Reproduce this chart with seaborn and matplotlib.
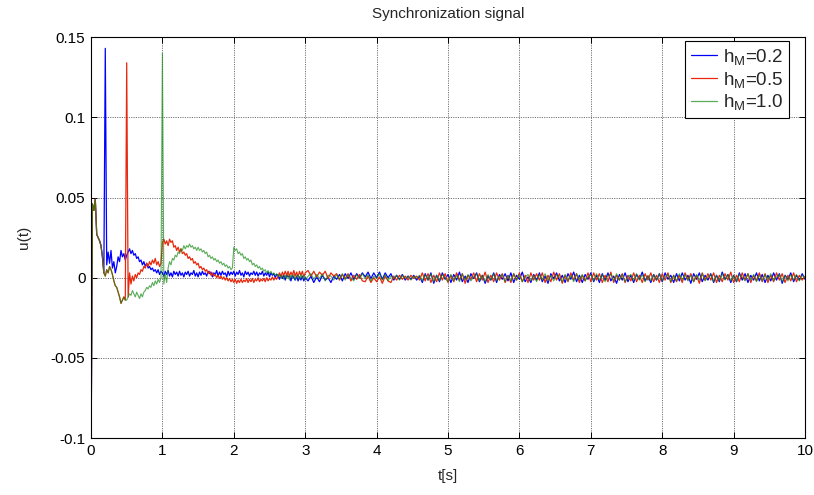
import numpy as np
import pandas as pd
import seaborn as sns
import matplotlib.pyplot as plt

# sample times: 0.02 s up to 3 s, then 0.04 s to 10 s
t_head = np.linspace(0, 3, 151)
t_tail = np.linspace(3.04, 10, 175)

# values, in units of 1e-3
shared_start = [-120, 46, 42, 49, 27, 25, 23, 20, 13, 3]

blue_head = shared_start + [
    143, 8, 16, 9, 17, 6, 10, 3, 7, 13,
    10, 17, 13, 15, 11, 14, 16, 18, 15, 17,
    14, 15, 12, 13, 10, 11, 8, 10, 7, 9,
    6, 7, 5, 6, 4, 5, 3, 5, 2, 4,
    3, 1, 4, 2, 4.5, 1, 3, 0.5, 4, 2,
    3.5, 1, 4, 1.5, 3, 0.5, 3.5, 2, 4, 1,
    3, 2, 4.5, 1, 3, 0.5, 3.5, 1.5, 4, 2,
    3, 1, 4, 2.5, 3.5, 0.5, 3, 2, 4.5, 1,
    3.5, 1.5, 4, 2, 3, 0.5, 4, 1.5, 3.5, 2,
    4, 1, 3.5, 2, 4.5, 1.5, 3, 0.5, 4, 2,
    3.5, 1, 3, 2, 4, 1.5, 3.5, 1, 3, 2,
    4, 1, 3, 1.5, 3.5, 0.5, 3, 1.5, 2.5, 0,
    2, 1.5, -1, 2, -0.5, 1.5, -1.5, 2, 0.5, 1,
    -2, 1.5, 0, -1.5, 1, -2, 0.5, -1.5, 1, -2,
    0]

shared_mid = [1, 5, 3, 7, 5, 2, -2, -5, -6, -9, -12, -16, -14, -12, -14]

red_head = shared_start + shared_mid + [
    134, -12, 3, -4, 1, -2, 2, 0, 3, 2,
    5, 4, 7, 6, 9, 7, 10, 8, 11, 9,
    12, 8, 10, 7, 9, 22, 24, 21, 23, 20,
    24, 22, 23, 19, 20, 17, 19, 16, 18, 15,
    16, 14, 15, 12, 13, 11, 12, 9, 10, 8,
    9, 6, 7, 5, 6, 4, 5, 2.5, 4, 1.5,
    3, 1, 2, 0, 1.5, -0.5, 1, -1, 0.5, -1.5,
    0, -2, -0.5, -2.5, -1, -3, -1, -3.5, -1.5, -3,
    -1, -3, -1.5, -2.5, -0.5, -3, -1, -2.5, -0.5, -3,
    -1, -2, 0, -2.5, -1, -2, -0.5, -2.5, 0, -2,
    -0.5, -1.5, 0.5, -1.5, 0, -1, 1, 3, 0.5, 3.5,
    1.5, 4, 1.5, 4, 1, 3.5, 1.5, 4.5, 1, 3.5,
    0.5, 4, 1.5, 4, 0.5, 3]

green_head = shared_start + shared_mid + [
    -14, -12, -10, -11, -8, -10, -12, -9, -11, -13,
    -10, -12, -9, -8, -6, -7, -5, -6, -3, -5,
    -2, -4, -1, -3, 0, 140, -4, 2, -3, 6,
    10, 8, 12, 11, 14, 13, 16, 15, 18, 17,
    20, 18, 20, 19, 21, 19, 20, 18, 19, 17,
    19, 17, 18, 16, 17, 15, 16, 13, 14, 12,
    13, 11, 12, 10, 11, 9, 10, 8, 9, 7,
    8, 6, 7, 5, 6, 19, 17, 18, 15, 16,
    14, 15, 12, 13, 11, 12, 10, 11, 8, 9,
    7, 8, 6, 7, 5, 6, 4, 5, 3, 4.5,
    2.5, 4, 2, 3, 1.5, 2.5, 1, 2, 0, 1.5,
    -1, 1.5, -0.5, 2, -1.5, 1.5, 0, 2, -1.5, 1,
    1.5, -1, 2, -0.5, 1.5, -1.5]

blue_tail = [
    -2, 1, -3, 0.5, -2.5, 1.5, -1.5, 0, -3, 1,
    -1, 2, -2, 2.5, -0.5, 3, -1, 2.5, 0, 3,
    0.5, 3.5, -0.5, 3, 0, 3.5, -1, 3, 0, 2.5,
    -1.5, 1.5, -1, 2, -1.5, 1, -1, 1.5, -1.5, 1,
    -3, 2.5, -1.5, 3, -3.5, 1.5, -2.5, 3, -1, 2,
    -3, 2, -1.5, 3.5, -2.5, 1, -3, 2.5, -0.5, 3,
    -2.5, 1.5, -3.5, 1, -1.5, 3, -3, 2, -1, 2.5,
    -2, 3, -3, 1.5, -1, 3.5, -2.5, 0.5, -3, 2,
    -1.5, 3, -2.5, 1, -3.5, 2.5, -0.5, 3, -2, 1.5,
    -3, 2.5, -1, 3.5, -2.5, 1.5, -3, 2, -1, 3,
    -2.5, 1.5, -3, 2.5, -1.5, 3, -2, 1, -3.5, 2,
    -1.5, 3, -2.5, 1.5, -3, 2, -1, 3.5, -2, 1,
    -3, 2, -1.5, 2.5, -2.5, 3, -1, 1.5, -3, 2.5,
    -2, 3, -1.5, 1.5, -3.5, 2.5, -1, 3, -2.5, 1.5,
    -1.5, 2.5, -3, 1.5, -2.5, 3.5, -1, 2, -3, 1.5,
    -2.5, 3, -1.5, 2.5, -3, 1.5, -1.5, 3, -2, 2,
    -3, 1.5, -2, 3, -1.5, 2.5, -3.5, 1.5, -1, 3,
    -2.5, 1.5, -1.5, 2.5, -1]

red_tail = [
    4.5, 1, 4, 0.5, 3.5, 1.5, 4, -0.5, 3, 1,
    2.5, -1.5, 2, -0.5, 2.5, -2, 1.5, -1, 2, -2,
    -2.5, 1, -3, 0, -2.5, 0.5, -3.5, 1, -2, -3,
    1, -1.5, 1.5, -1, 1, -1.5, 1.5, -0.5, 1, -1.5,
    3, -2, 2.5, -3, 1.5, -2.5, 3, -1.5, 2.5, -3,
    1.5, -2.5, 3, -1.5, 2.5, -3.5, 1.5, -1, 3, -2.5,
    2.5, -1.5, 3.5, -3, 1.5, -2.5, 3, -1.5, 2.5, -3,
    1.5, -3, 2.5, -1.5, 3, -2.5, 1.5, -3, 3, -1.5,
    2.5, -1.5, 3, -3, 1.5, -2.5, 3.5, -1.5, 2.5, -3.5,
    1.5, -2.5, 3, -1.5, 2.5, -3, 1.5, -2, 3, -2.5,
    3, -1.5, 2.5, -3, 1.5, -2.5, 3.5, -3, 1.5, -1.5,
    2.5, -3, 1.5, -2, 3, -2.5, 1.5, -3, 2.5, -1.5,
    3, -2.5, 1.5, -3, 2.5, -1.5, 3, -3, 1.5, -2.5,
    1.5, -3, 3, -1.5, 2.5, -2.5, 1.5, -3.5, 3, -1.5,
    2.5, -1.5, 3, -3, 1.5, -2.5, 2.5, -1.5, 3.5, -3,
    1.5, -2.5, 3, -1.5, 2.5, -3, 1.5, -2, 3, -2.5,
    2.5, -3, 1.5, -2.5, 3, -1.5, 2.5, -3, 1.5, -2,
    3, -2.5, 1.5, -1.5, 1]

green_tail = [
    1, 2.5, -1, 2, -0.5, 2.5, -2, 1.5, 1, -1.5,
    2, -1, 2.5, -1.5, 2, 0, -2, 2, -0.5, 2.5,
    -0.5, 2, -2, 1, -0.5, 2.5, -1.5, 2, -2, 1,
    -0.5, 1.5, -1.5, 1.5, -0.5, 1, -1.5, 1, -0.5, 1.5,
    -2, 2, -1.5, 2.5, -2.5, 1.5, -2, 2, -0.5, -2.5,
    2, -2, 1.5, -2.5, 2.5, -1.5, 2, -2, 0.5, 2.5,
    -2, 1.5, -2.5, 2, -1.5, 2.5, -2, 0.5, 2, -2.5,
    1.5, -2, 2.5, -1.5, 2, -2.5, 0.5, 2, -2, 1.5,
    -2.5, 2, -1.5, 2.5, -2, 1.5, -2, 2, 0, -2.5,
    2, -2, 1.5, -2.5, 2.5, -1.5, 2, -2, 0.5, 2,
    -2, 2.5, -1.5, 2, -2.5, 1.5, 2, -2, 2.5, -1.5,
    2, -2.5, 0.5, 2, -2, 2.5, -1.5, 2, -2.5, 1.5,
    -2, 2, -1.5, 2.5, -2, 0.5, 2, -2.5, 1.5, -2,
    2.5, -1.5, 2, -2, 1.5, -2.5, 2, -1.5, 2.5, -2,
    0.5, 2, -2.5, 1.5, -2, 2.5, -1.5, 2, -2, 1.5,
    -2.5, 2, 0.5, -2, 2.5, -1.5, 2, -2.5, 1.5, -2,
    2, -1.5, 2.5, -2, 0.5, 2, -2.5, 1.5, -2, 2,
    -1.5, 2, -2, 1.5, 0]

labels = ['h$_M$=0.2', 'h$_M$=0.5', 'h$_M$=1.0']
xticks = list(range(0, 11))
yticks = [-0.1, -0.05, 0, 0.05, 0.1, 0.15]
ytick_labels = ['-0.1', '-0.05', '0', '0.05', '0.1', '0.15']

t = np.concatenate([t_head, t_tail])
series = {
    labels[0]: np.array(blue_head + blue_tail) / 1000,
    labels[1]: np.array(red_head + red_tail) / 1000,
    labels[2]: np.array(green_head + green_tail) / 1000,
}
df = pd.concat([pd.DataFrame({'t': t, 'u': v, 'name': k}) for k, v in series.items()])

sns.set_style('ticks', {'xtick.direction': 'in', 'ytick.direction': 'in'})
plt.rcParams['font.family'] = ['Liberation Sans', 'DejaVu Sans']
plt.rcParams['mathtext.default'] = 'regular'

fig, ax = plt.subplots(figsize=(8.14, 4.95), dpi=100, facecolor='white')
fig.subplots_adjust(left=0.1118, right=0.989, top=0.925, bottom=0.115)

styles = {labels[0]: ('#0000ff', 0.9, 1.0),
          labels[1]: ('#e8280c', 0.9, 1.0),
          labels[2]: ('#128a12', 0.8, 0.7)}
for name in labels:
    c, lw, a = styles[name]
    sns.lineplot(data=df[df['name'] == name], x='t', y='u', color=c, lw=lw,
                 alpha=a, estimator=None, sort=False, label=name, ax=ax)

ax.set_xlim(0, 10)
ax.set_ylim(-0.1, 0.15)
ax.set_xticks(xticks)
ax.set_xticklabels([str(x) for x in xticks])
ax.set_yticks(yticks)
ax.set_yticklabels(ytick_labels)
ax.grid(True, color='0.45', lw=0.7, dashes=(1.2, 1.2))
ax.tick_params(axis='both', which='both', direction='in', length=4, width=0.7,
               top=True, right=True, labelsize=11, pad=4, colors='black')
for s in ax.spines.values():
    s.set_color('black')
    s.set_linewidth(0.8)

ax.set_title('Synchronization signal', fontsize=11, pad=14)
ax.set_xlabel('t[s]', fontsize=11, labelpad=8)
ax.set_ylabel('u(t)', fontsize=11, labelpad=14)

leg = ax.legend(loc='upper right', bbox_to_anchor=(0.978, 0.99), borderaxespad=0,
                fontsize=13.5, frameon=True, fancybox=False, edgecolor='black',
                framealpha=1, handlelength=1.4, handletextpad=0.35,
                labelspacing=0.15, borderpad=0.3)
leg.get_frame().set_linewidth(0.8)
for line in leg.get_lines():
    line.set_linewidth(0.9)

fig.savefig('out.png', dpi=100, facecolor='white')
